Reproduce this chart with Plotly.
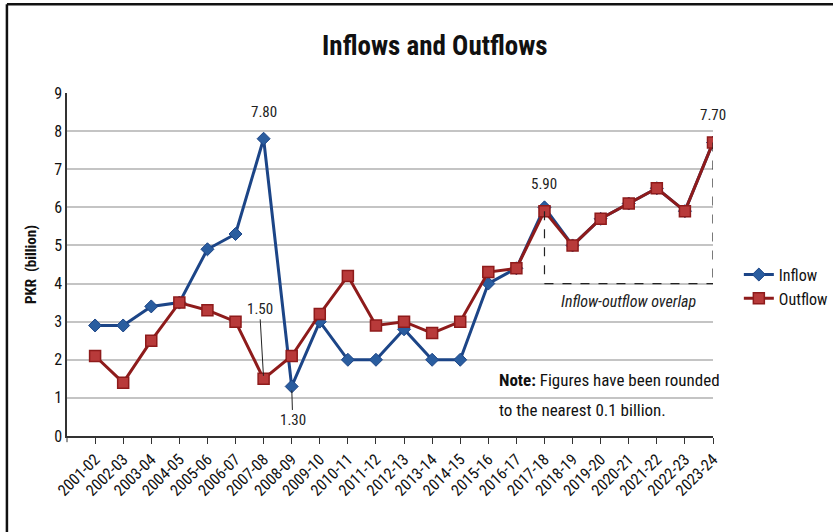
import plotly.graph_objects as go

years = ["2001-02", "2002-03", "2003-04", "2004-05", "2005-06", "2006-07", "2007-08",
         "2008-09", "2009-10", "2010-11", "2011-12", "2012-13", "2013-14", "2014-15",
         "2015-16", "2016-17", "2017-18", "2018-19", "2019-20", "2020-21", "2021-22",
         "2022-23", "2023-24"]
inflow = [2.9, 2.9, 3.4, 3.5, 4.9, 5.3, 7.8, 1.3, 3.0, 2.0, 2.0, 2.8, 2.0, 2.0,
          4.0, 4.4, 6.0, 5.0, 5.7, 6.1, 6.5, 5.9, 7.7]
outflow = [2.1, 1.4, 2.5, 3.5, 3.3, 3.0, 1.5, 2.1, 3.2, 4.2, 2.9, 3.0, 2.7, 3.0,
           4.3, 4.4, 5.9, 5.0, 5.7, 6.1, 6.5, 5.9, 7.7]
y_ticks = [0, 1, 2, 3, 4, 5, 6, 7, 8, 9]

FONT = "Liberation Sans Narrow, Arial Narrow, Roboto Condensed, Arial, sans-serif"
BLUE = "#1c4587"
RED = "#8e1b1b"
RED_FILL = "#b83a3a"

fig = go.Figure()
fig.add_trace(go.Scatter(
    x=years, y=inflow, name="Inflow", mode="lines+markers",
    line=dict(color=BLUE, width=3),
    marker=dict(symbol="diamond", size=10, color="#2a5d9f", line=dict(color=BLUE, width=1)),
))
fig.add_trace(go.Scatter(
    x=years, y=outflow, name="Outflow", mode="lines+markers",
    line=dict(color=RED, width=3),
    marker=dict(symbol="square", size=11, color=RED_FILL, line=dict(color=RED, width=1.5)),
))

# dashed bracket marking where the two series coincide
i0, i1 = years.index("2017-18"), len(years) - 1
dash = dict(color="#222222", width=1.2, dash="dash")
fig.add_shape(type="line", x0=years[i0], x1=years[i0], y0=outflow[i0], y1=4.0, line=dash)
fig.add_shape(type="line", x0=years[i1], x1=years[i1], y0=outflow[i1], y1=4.0, line=dash)
fig.add_shape(type="line", x0=years[i0], x1=years[i1], y0=4.0, y1=4.0, line=dash)

# small tick at the start of the category axis
fig.add_shape(type="line", xref="paper", yref="paper", x0=0, x1=0, y0=0, y1=-0.018,
              line=dict(color="#333333", width=1))

# page frame (left and top edges)
fig.add_shape(type="line", xref="paper", yref="paper", x0=-0.093, x1=-0.093, y0=-0.3, y1=1.259,
              line=dict(color="#111111", width=2.5))
fig.add_shape(type="line", xref="paper", yref="paper", x0=-0.093, x1=1.2, y0=1.259, y1=1.259,
              line=dict(color="#111111", width=2.5))

lbl = dict(family=FONT, size=15, color="#222222")
anns = [
    dict(x=years[6], y=inflow[6], text=f"{inflow[6]:.2f}", showarrow=False, yshift=27),
    dict(x=years[6], y=outflow[6], text=f"{outflow[6]:.2f}", showarrow=True, arrowhead=0,
         arrowwidth=1, arrowcolor="#222222", ax=-4, ay=-70, standoff=3),
    dict(x=years[7], y=inflow[7], text=f"{inflow[7]:.2f}", showarrow=True, arrowhead=0,
         arrowwidth=1, arrowcolor="#222222", ax=1, ay=34, standoff=4),
    dict(x=years[16], y=outflow[16], text=f"{outflow[16]:.2f}", showarrow=False, yshift=27),
    dict(x=years[22], y=outflow[22], text=f"{outflow[22]:.2f}", showarrow=False, yshift=28),
]
for a in anns:
    a["font"] = lbl
    fig.add_annotation(**a)

fig.add_annotation(x=years[19], y=3.52, text="<i>Inflow-outflow overlap</i>", showarrow=False,
                   font=dict(family=FONT, size=16, color="#222222"))
note_font = dict(family=FONT, size=17, color="#111111")
fig.add_annotation(x=0.666, xref="paper", y=1.47, yref="y", xanchor="left",
                   text="<b>Note:</b> Figures have been rounded", showarrow=False, font=note_font)
fig.add_annotation(x=0.666, xref="paper", y=0.68, yref="y", xanchor="left",
                   text="to the nearest 0.1 billion.", showarrow=False, font=note_font)

fig.update_layout(
    width=833, height=532,
    margin=dict(l=67, r=120, t=93, b=96, autoexpand=False),
    paper_bgcolor="white", plot_bgcolor="white",
    title=dict(text="<b>Inflows and Outflows</b>", x=0.522, xanchor="center", y=0.915,
               yanchor="middle", font=dict(family=FONT, size=27, color="#111111")),
    font=dict(family=FONT, color="#111111"),
    showlegend=True,
    legend=dict(x=1.04, y=0.52, xanchor="left", yanchor="top",
                font=dict(family=FONT, size=16, color="#111111"),
                tracegroupgap=14, itemwidth=30, bgcolor="rgba(0,0,0,0)"),
    xaxis=dict(type="category", range=[-1, len(years) - 1], tickangle=-45,
               showgrid=False, showline=True, linecolor="#333333", linewidth=1.5,
               ticks="outside", ticklen=6, tickcolor="#333333",
               tickfont=dict(family=FONT, size=16, color="#111111")),
    yaxis=dict(range=[0, 9], tickvals=y_ticks, showgrid=True, gridcolor="#c4c4c4",
               gridwidth=1.5, showline=True, linecolor="#333333", linewidth=1.5,
               zeroline=False, ticks="", tickfont=dict(family=FONT, size=16, color="#111111"),
               title=dict(text="<b>PKR  (billion)</b>", standoff=14,
                          font=dict(family=FONT, size=15, color="#111111"))),
)
fig.write_html("out.html")
